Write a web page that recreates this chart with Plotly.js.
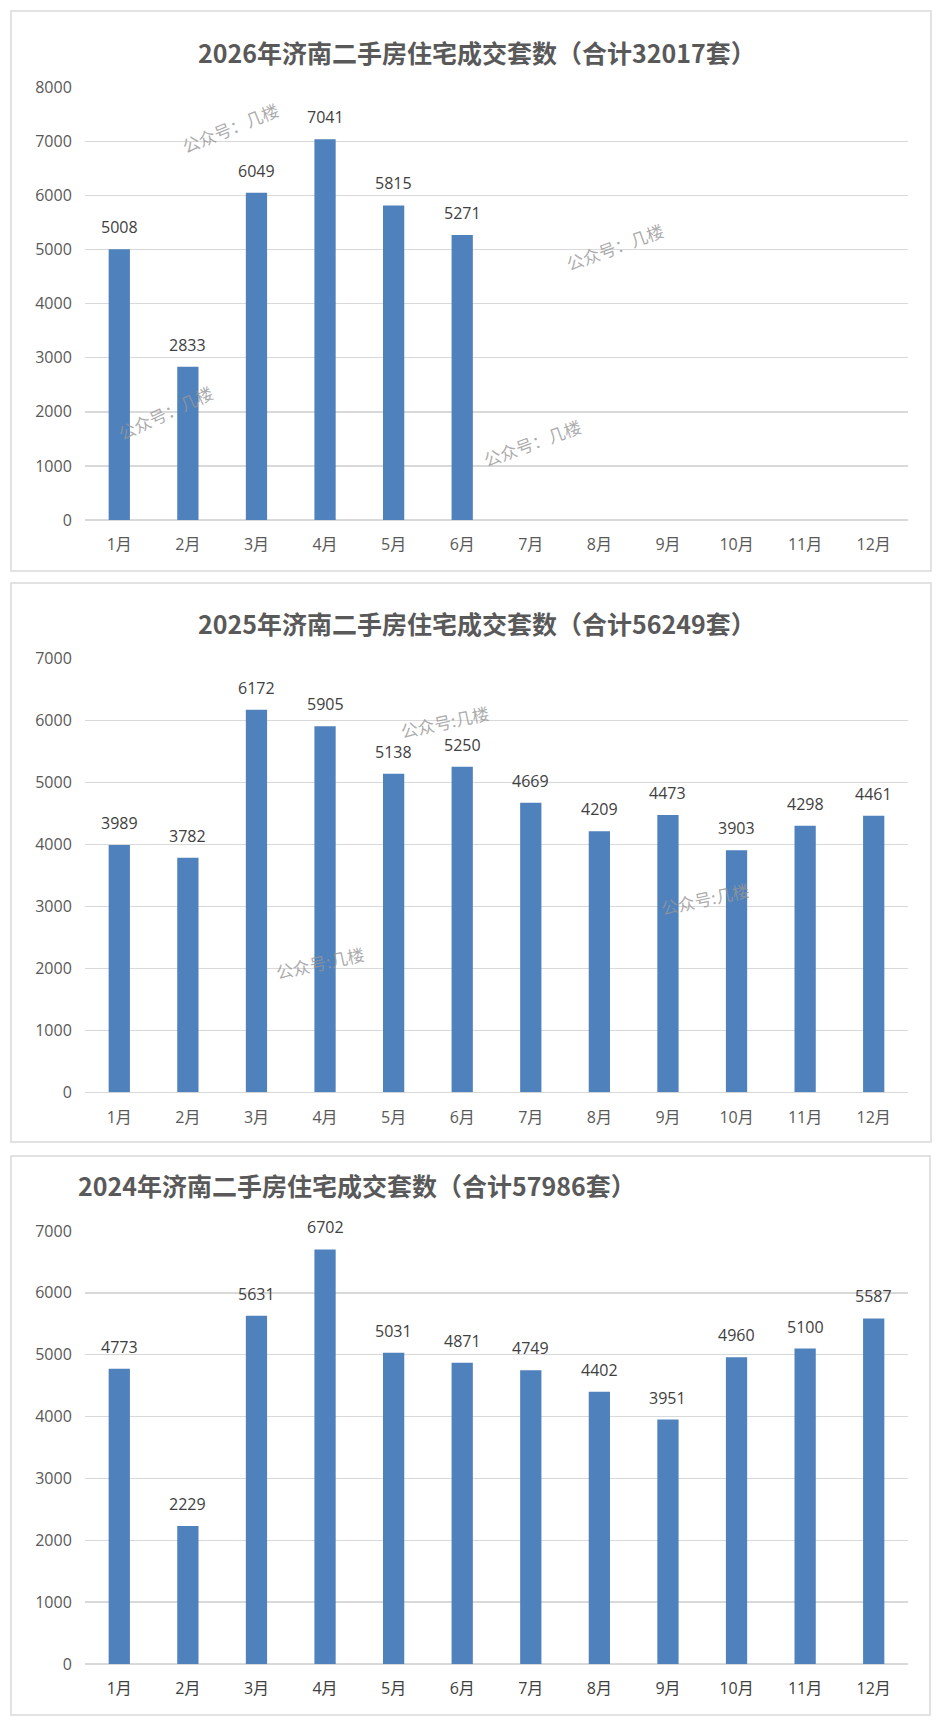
<!DOCTYPE html>
<html>
<head>
<meta charset="utf-8">
<script src="https://cdn.plot.ly/plotly-3.0.1.min.js"></script>
<style>
html,body{margin:0;padding:0;background:#fff;}
#chart{width:942px;height:1726px;}
</style>
</head>
<body>
<div id="chart"></div>
<script>
// ---------- data ----------
const months = ["1月","2月","3月","4月","5月","6月","7月","8月","9月","10月","11月","12月"];
const values2026 = [5008, 2833, 6049, 7041, 5815, 5271, null, null, null, null, null, null];
const values2025 = [3989, 3782, 6172, 5905, 5138, 5250, 4669, 4209, 4473, 3903, 4298, 4461];
const values2024 = [4773, 2229, 5631, 6702, 5031, 4871, 4749, 4402, 3951, 4960, 5100, 5587];
const title2026 = "2026年济南二手房住宅成交套数（合计32017套）";
const title2025 = "2025年济南二手房住宅成交套数（合计56249套）";
const title2024 = "2024年济南二手房住宅成交套数（合计57986套）";
const watermark1 = "公众号：几楼";
const watermark2 = "公众号:几楼";

// ---------- layout helpers ----------
const W = 942, H = 1726;
const px = x => x / W;
const py = y => 1 - y / H;
const BAR = "#4f81bd";
const GRID = "#d9d9d9";
const TXT = "#595959";
const LAB = "#404040";
const FONT = "Open Sans, Noto Sans CJK SC, sans-serif";
const CJK = "Noto Sans CJK SC, Noto Sans, sans-serif";

const xDomain = [px(85), px(908)];

function yAxis(range, top, bottom, dtick) {
  return {
    domain: [py(bottom), py(top)],
    range: range,
    dtick: dtick,
    tick0: 0,
    showgrid: true,
    gridcolor: GRID,
    gridwidth: 1.5,
    zeroline: true,
    zerolinecolor: GRID,
    zerolinewidth: 1.5,
    showline: false,
    ticks: "outside",
    ticklen: 9,
    tickcolor: "rgba(0,0,0,0)",
    tickfont: {family: FONT, size: 16, color: TXT},
    fixedrange: true
  };
}
function xAxis(anchor, color) {
  return {
    domain: xDomain,
    anchor: anchor,
    type: "category",
    categoryorder: "array",
    categoryarray: months,
    showgrid: false,
    zeroline: false,
    showline: false,
    ticks: "outside",
    ticklen: 10,
    tickcolor: "rgba(0,0,0,0)",
    tickfont: {family: FONT, size: 16, color: color},
    fixedrange: true
  };
}

const traces = [
  {type: "bar", x: months, y: values2026, xaxis: "x", yaxis: "y", marker: {color: BAR}, hoverinfo: "skip"},
  {type: "bar", x: months, y: values2025, xaxis: "x2", yaxis: "y2", marker: {color: BAR}, hoverinfo: "skip"},
  {type: "bar", x: months, y: values2024, xaxis: "x3", yaxis: "y3", marker: {color: BAR}, hoverinfo: "skip"}
];

const annotations = [];
function addLabels(vals, xr, yr) {
  vals.forEach((v, i) => {
    if (v === null) return;
    annotations.push({
      x: months[i], y: v, xref: xr, yref: yr,
      text: String(v), showarrow: false,
      yanchor: "middle", yshift: 22,
      font: {family: FONT, size: 16, color: LAB}
    });
  });
}
addLabels(values2026, "x", "y");
addLabels(values2025, "x2", "y2");
addLabels(values2024, "x3", "y3");

// titles
function addTitle(text, x, y, anchor) {
  annotations.push({
    text: text, xref: "paper", yref: "paper", x: px(x), y: py(y),
    xanchor: anchor, yanchor: "middle", showarrow: false,
    font: {family: CJK, size: 25, color: TXT, weight: 700}
  });
}
addTitle(title2026, 477, 52, "center");
addTitle(title2025, 477, 623, "center");
addTitle(title2024, 76, 1185, "left");

// watermarks
function addMark(text, x, y, angle) {
  annotations.push({
    text: text, xref: "paper", yref: "paper", x: px(x), y: py(y),
    xanchor: "center", yanchor: "middle", showarrow: false, textangle: angle,
    font: {family: CJK, size: 17, color: "rgba(150,150,150,0.8)"}
  });
}
addMark(watermark1, 230, 127, -22);
addMark(watermark1, 615, 247, -20);
addMark(watermark1, 165, 412, -25);
addMark(watermark1, 532, 442, -20);
addMark(watermark2, 445, 722, -12);
addMark(watermark2, 705, 898, -12);
addMark(watermark2, 320, 962, -12);

// panel borders
function border(x0, y0, x1, y1) {
  return {type: "rect", xref: "paper", yref: "paper",
    x0: px(x0), x1: px(x1), y0: py(y1), y1: py(y0),
    line: {color: GRID, width: 1.5}, fillcolor: "rgba(0,0,0,0)", layer: "below"};
}

const layout = {
  width: W, height: H,
  margin: {l: 0, r: 0, t: 0, b: 0},
  paper_bgcolor: "#ffffff",
  plot_bgcolor: "rgba(0,0,0,0)",
  showlegend: false,
  bargap: 0.69,
  xaxis: xAxis("y", TXT),
  yaxis: yAxis([0, 8000], 87.3, 520, 1000),
  xaxis2: xAxis("y2", TXT),
  yaxis2: Object.assign(yAxis([0, 7000], 658.3, 1092.3, 1000), {anchor: "x2"}),
  xaxis3: xAxis("y3", LAB),
  yaxis3: Object.assign(yAxis([0, 7000], 1231, 1664, 1000), {anchor: "x3"}),
  annotations: annotations,
  shapes: [
    border(11, 11, 931, 571),
    border(11, 583, 931, 1142),
    border(11, 1156, 930, 1715)
  ]
};
layout.yaxis.anchor = "x";

Plotly.newPlot("chart", traces, layout, {staticPlot: true, displayModeBar: false});
</script>
</body>
</html>
